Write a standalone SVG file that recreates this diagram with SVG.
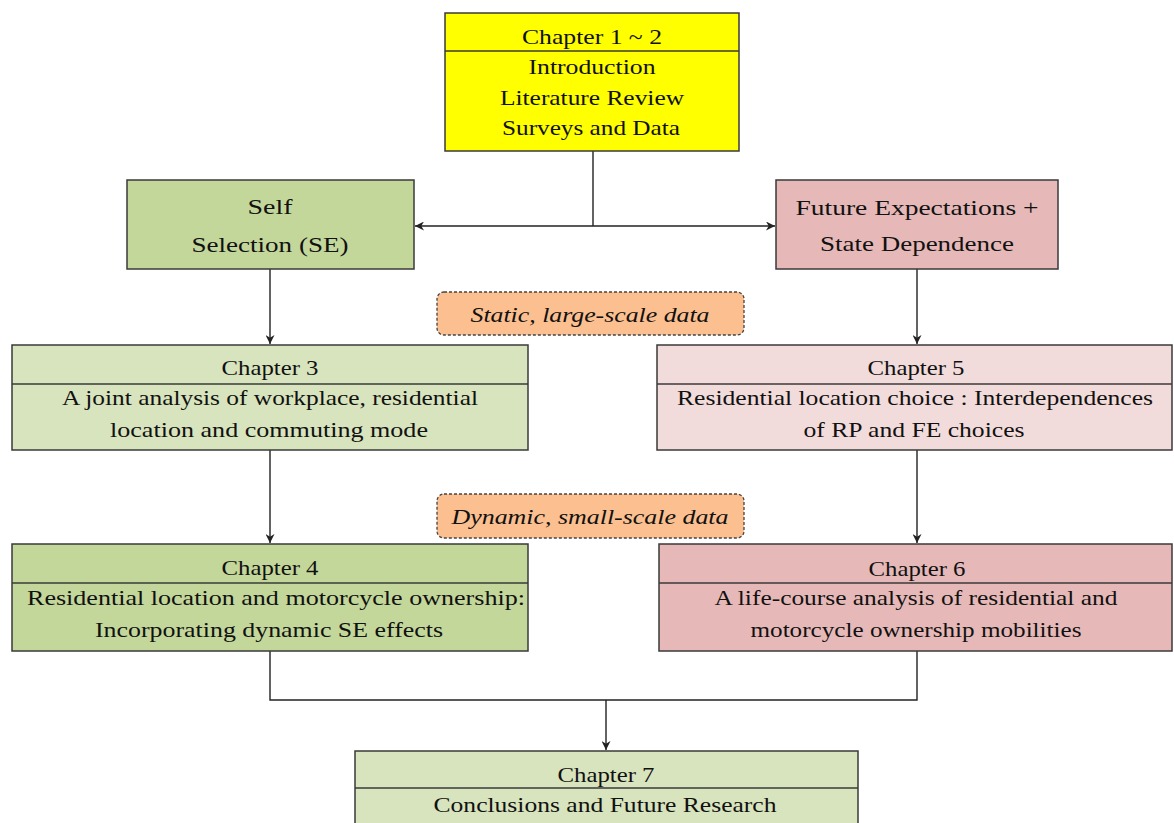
<svg xmlns="http://www.w3.org/2000/svg" width="1174" height="823" viewBox="0 0 1174 823">
  <style>
    .box { stroke: #3a3a3a; stroke-width: 1.5; }
    .div { stroke: #3a3a3a; stroke-width: 1.5; fill: none; }
    .t { font-family: "Liberation Serif", "DejaVu Serif", serif; font-size: 22px; fill: #111; text-anchor: middle; }
    .it { font-style: italic; }
    .tag { fill: #fcbf8f; stroke: #444; stroke-width: 1.3; stroke-dasharray: 3 2; }
    .c { stroke: #222; stroke-width: 1.4; fill: none; }
    .yel { fill: #ffff00; }
    .g1 { fill: #c4d79b; }
    .g2 { fill: #d8e4bd; }
    .r1 { fill: #e6b9b8; }
    .r2 { fill: #f2dcdb; }
  </style>
  <defs>
    <marker id="arr" viewBox="0 0 10 10" refX="10" refY="5" markerWidth="9" markerHeight="9" markerUnits="userSpaceOnUse" orient="auto">
      <path d="M0,0 L10,5 L0,10 L3,5 Z" fill="#222"/>
    </marker>
  </defs>
  <rect width="1174" height="823" fill="#ffffff"/>

  <g id="connectors">
    <path class="c" d="M593,151 V226"/>
    <path class="c" d="M593,226 H415" marker-end="url(#arr)"/>
    <path class="c" d="M593,226 H775" marker-end="url(#arr)"/>
    <path class="c" d="M270,269 V344" marker-end="url(#arr)"/>
    <path class="c" d="M917,269 V344" marker-end="url(#arr)"/>
    <path class="c" d="M270,450 V543" marker-end="url(#arr)"/>
    <path class="c" d="M917,450 V543" marker-end="url(#arr)"/>
    <path class="c" d="M270,651 V700 H917 V651"/>
    <path class="c" d="M606,700 V750" marker-end="url(#arr)"/>
  </g>

  <g id="ch1-2">
    <rect class="box yel" x="445" y="13" width="294" height="138"/>
    <line class="div" x1="445" y1="51" x2="739" y2="51"/>
    <text class="t" x="592" y="44" textLength="140" lengthAdjust="spacingAndGlyphs">Chapter 1 ~ 2</text>
    <text class="t" x="592" y="74" textLength="127" lengthAdjust="spacingAndGlyphs">Introduction</text>
    <text class="t" x="592" y="105" textLength="184" lengthAdjust="spacingAndGlyphs">Literature Review</text>
    <text class="t" x="591" y="135" textLength="178" lengthAdjust="spacingAndGlyphs">Surveys and Data</text>
  </g>

  <g id="self-selection">
    <rect class="box g1" x="127" y="180" width="287" height="89"/>
    <text class="t" x="270" y="214" textLength="45" lengthAdjust="spacingAndGlyphs">Self</text>
    <text class="t" x="270" y="252" textLength="157" lengthAdjust="spacingAndGlyphs">Selection (SE)</text>
  </g>

  <g id="future-expectations">
    <rect class="box r1" x="776" y="180" width="282" height="89"/>
    <text class="t" x="917" y="215" textLength="243" lengthAdjust="spacingAndGlyphs">Future Expectations +</text>
    <text class="t" x="917" y="251" textLength="194" lengthAdjust="spacingAndGlyphs">State Dependence</text>
  </g>

  <g id="static-data">
    <rect class="tag" x="437" y="292" width="307" height="43" rx="7"/>
    <text class="t it" x="590" y="322" textLength="239" lengthAdjust="spacingAndGlyphs">Static, large-scale data</text>
  </g>

  <g id="ch3">
    <rect class="box g2" x="12" y="345" width="516" height="105"/>
    <line class="div" x1="12" y1="384" x2="528" y2="384"/>
    <text class="t" x="270" y="375" textLength="97" lengthAdjust="spacingAndGlyphs">Chapter 3</text>
    <text class="t" x="270" y="405" textLength="416" lengthAdjust="spacingAndGlyphs">A joint analysis of workplace, residential</text>
    <text class="t" x="269" y="437" textLength="318" lengthAdjust="spacingAndGlyphs">location and commuting mode</text>
  </g>

  <g id="ch5">
    <rect class="box r2" x="657" y="345" width="515" height="105"/>
    <line class="div" x1="657" y1="384" x2="1172" y2="384"/>
    <text class="t" x="916" y="375" textLength="97" lengthAdjust="spacingAndGlyphs">Chapter 5</text>
    <text class="t" x="915" y="405" textLength="476" lengthAdjust="spacingAndGlyphs">Residential location choice : Interdependences</text>
    <text class="t" x="914" y="437" textLength="221" lengthAdjust="spacingAndGlyphs">of RP and FE choices</text>
  </g>

  <g id="dynamic-data">
    <rect class="tag" x="437" y="494" width="307" height="44" rx="7"/>
    <text class="t it" x="590" y="524" textLength="277" lengthAdjust="spacingAndGlyphs">Dynamic, small-scale data</text>
  </g>

  <g id="ch4">
    <rect class="box g1" x="12" y="544" width="516" height="107"/>
    <line class="div" x1="12" y1="583" x2="528" y2="583"/>
    <text class="t" x="270" y="575" textLength="97" lengthAdjust="spacingAndGlyphs">Chapter 4</text>
    <text class="t" x="276" y="605" textLength="498" lengthAdjust="spacingAndGlyphs">Residential location and motorcycle ownership:</text>
    <text class="t" x="269" y="637" textLength="348" lengthAdjust="spacingAndGlyphs">Incorporating dynamic SE effects</text>
  </g>

  <g id="ch6">
    <rect class="box r1" x="659" y="544" width="513" height="107"/>
    <line class="div" x1="659" y1="583" x2="1172" y2="583"/>
    <text class="t" x="917" y="576" textLength="97" lengthAdjust="spacingAndGlyphs">Chapter 6</text>
    <text class="t" x="916" y="605" textLength="403" lengthAdjust="spacingAndGlyphs">A life-course analysis of residential and</text>
    <text class="t" x="916" y="637" textLength="331" lengthAdjust="spacingAndGlyphs">motorcycle ownership mobilities</text>
  </g>

  <g id="ch7">
    <rect class="box g2" x="355" y="751" width="503" height="80"/>
    <line class="div" x1="355" y1="788" x2="858" y2="788"/>
    <text class="t" x="606" y="782" textLength="97" lengthAdjust="spacingAndGlyphs">Chapter 7</text>
    <text class="t" x="605" y="812" textLength="343" lengthAdjust="spacingAndGlyphs">Conclusions and Future Research</text>
  </g>
</svg>
